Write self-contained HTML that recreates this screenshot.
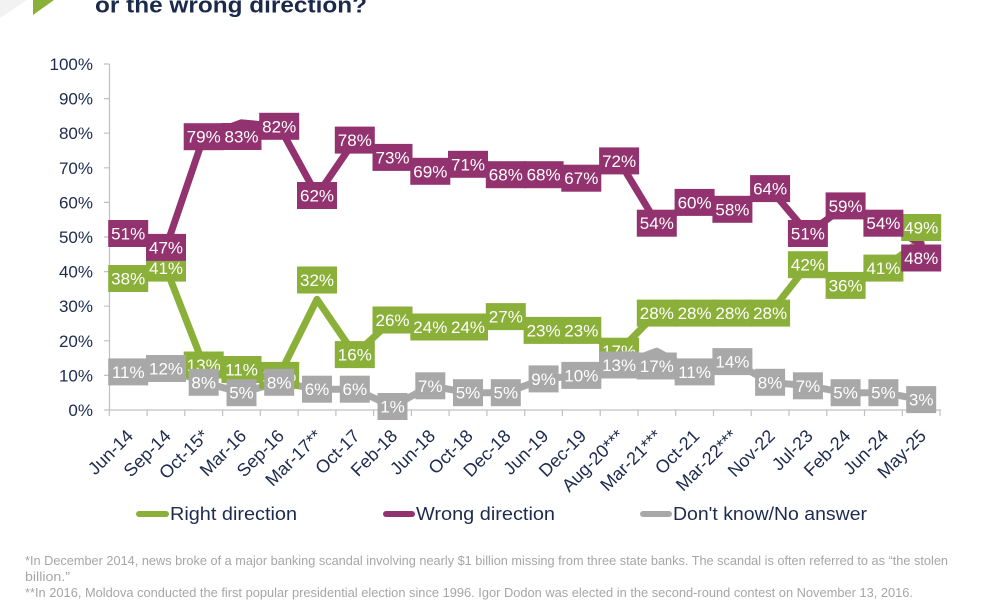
<!DOCTYPE html>
<html><head><meta charset="utf-8"><style>
html,body{margin:0;padding:0;background:#fff;}
svg{display:block;}
text{font-family:"Liberation Sans",sans-serif;}
.lb{font-size:17px;fill:#fff;text-anchor:middle;}
.ax{font-size:17px;fill:#1e2b4f;}
</style></head><body>
<svg width="1000" height="600" viewBox="0 0 1000 600" xmlns="http://www.w3.org/2000/svg">
<rect width="1000" height="600" fill="#fff"/>
<polygon points="0,0 27,0 0,18" fill="#f2f2f2"/>
<polygon points="33,0 54,0 33,15" fill="#8bb03a"/>
<text x="95" y="12.5" font-size="22" font-weight="bold" fill="#1b2a4a" textLength="272" lengthAdjust="spacingAndGlyphs">or the wrong direction?</text>

<!-- axes -->
<g stroke="#c0c0c0" stroke-width="1.2" fill="none">
<line x1="109.5" y1="64" x2="109.5" y2="410"/>
<line x1="109" y1="410" x2="941" y2="410"/>
<path d="M104 410H109.5M104 375.4H109.5M104 340.8H109.5M104 306.2H109.5M104 271.6H109.5M104 237H109.5M104 202.4H109.5M104 167.8H109.5M104 133.2H109.5M104 98.6H109.5M104 64H109.5"/>
<path d="M109.3 410V416M147.1 410V416M184.8 410V416M222.6 410V416M260.3 410V416M298.1 410V416M335.9 410V416M373.6 410V416M411.4 410V416M449.1 410V416M486.9 410V416M524.7 410V416M562.4 410V416M600.2 410V416M638 410V416M675.7 410V416M713.5 410V416M751.2 410V416M789 410V416M826.8 410V416M864.5 410V416M902.3 410V416M940 410V416"/>
</g>
<g class="ax" text-anchor="end">
<text x="93" y="416">0%</text>
<text x="93" y="381.4">10%</text>
<text x="93" y="346.8">20%</text>
<text x="93" y="312.2">30%</text>
<text x="93" y="277.6">40%</text>
<text x="93" y="243">50%</text>
<text x="93" y="208.4">60%</text>
<text x="93" y="173.8">70%</text>
<text x="93" y="139.2">80%</text>
<text x="93" y="104.6">90%</text>
<text x="93" y="70">100%</text>
</g>
<g class="ax" text-anchor="end" style="font-size:18px">
<text transform="translate(134.2,437) rotate(-45)">Jun-14</text>
<text transform="translate(172,437) rotate(-45)">Sep-14</text>
<text transform="translate(209.7,437) rotate(-45)">Oct-15*</text>
<text transform="translate(247.5,437) rotate(-45)">Mar-16</text>
<text transform="translate(285.2,437) rotate(-45)">Sep-16</text>
<text transform="translate(323,437) rotate(-45)">Mar-17**</text>
<text transform="translate(360.8,437) rotate(-45)">Oct-17</text>
<text transform="translate(398.5,437) rotate(-45)">Feb-18</text>
<text transform="translate(436.3,437) rotate(-45)">Jun-18</text>
<text transform="translate(474,437) rotate(-45)">Oct-18</text>
<text transform="translate(511.8,437) rotate(-45)">Dec-18</text>
<text transform="translate(549.6,437) rotate(-45)">Jun-19</text>
<text transform="translate(587.3,437) rotate(-45)">Dec-19</text>
<text transform="translate(625.1,437) rotate(-45)">Aug-20***</text>
<text transform="translate(662.8,437) rotate(-45)">Mar-21***</text>
<text transform="translate(700.6,437) rotate(-45)">Oct-21</text>
<text transform="translate(738.4,437) rotate(-45)">Mar-22***</text>
<text transform="translate(776.1,437) rotate(-45)">Nov-22</text>
<text transform="translate(813.9,437) rotate(-45)">Jul-23</text>
<text transform="translate(851.6,437) rotate(-45)">Feb-24</text>
<text transform="translate(889.4,437) rotate(-45)">Jun-24</text>
<text transform="translate(927.2,437) rotate(-45)">May-25</text>
</g>

<!-- series lines -->
<g fill="none" stroke-width="7" stroke-linejoin="round" stroke-linecap="round">
<polyline stroke="#8bb03a" points="128.2,278.5 166,268.1 203.7,365 241.5,371.9 279.2,375.4 317,299.3 354.8,354.6 392.5,320 430.3,327 468,327 505.8,316.6 543.6,330.4 581.3,330.4 619.1,351.2 656.8,313.1 694.6,313.1 732.4,313.1 770.1,313.1 807.9,264.7 845.6,285.4 883.4,268.1 921.2,240.5"/>
<polyline stroke="#923370" points="128.2,233.5 166,247.4 203.7,136.7 241.5,122.8 279.2,126.3 317,195.5 354.8,140.1 392.5,157.4 430.3,171.3 468,164.3 505.8,174.7 543.6,174.7 581.3,178.2 619.1,160.9 656.8,223.2 694.6,202.4 732.4,209.3 770.1,188.6 807.9,233.5 845.6,205.9 883.4,223.2 921.2,243.9"/>
<polyline stroke="#a8a8a8" points="128.2,371.9 166,368.5 203.7,382.3 241.5,392.7 279.2,382.3 317,389.2 354.8,389.2 392.5,406.5 430.3,385.8 468,392.7 505.8,392.7 543.6,378.9 581.3,375.4 619.1,365 656.8,351.2 694.6,371.9 732.4,361.6 770.1,382.3 807.9,385.8 845.6,392.7 883.4,392.7 921.2,399.6"/>
</g>

<!-- green labels -->
<g fill="#8bb03a">
<rect x="108.2" y="265" width="40" height="27"/>
<rect x="146" y="254.6" width="40" height="27"/>
<rect x="183.7" y="351.5" width="40" height="27"/>
<rect x="221.5" y="356" width="40" height="27"/>
<rect x="259.2" y="361.9" width="40" height="27"/>
<rect x="297" y="266.5" width="40" height="27"/>
<rect x="334.8" y="341.1" width="40" height="27"/>
<rect x="372.5" y="306.5" width="40" height="27"/>
<rect x="410.3" y="313.5" width="40" height="27"/>
<rect x="448" y="313.5" width="40" height="27"/>
<rect x="485.8" y="303.1" width="40" height="27"/>
<rect x="523.6" y="316.9" width="40" height="27"/>
<rect x="561.3" y="316.9" width="40" height="27"/>
<rect x="599.1" y="337.7" width="40" height="27"/>
<rect x="636.8" y="299.6" width="40" height="27"/>
<rect x="674.6" y="299.6" width="40" height="27"/>
<rect x="712.4" y="299.6" width="40" height="27"/>
<rect x="750.1" y="299.6" width="40" height="27"/>
<rect x="787.9" y="251.2" width="40" height="27"/>
<rect x="825.6" y="271.9" width="40" height="27"/>
<rect x="863.4" y="254.6" width="40" height="27"/>
<rect x="901.2" y="214" width="40" height="27"/>
</g>
<g class="lb">
<text x="128.2" y="284.5">38%</text>
<text x="166" y="274.1">41%</text>
<text x="203.7" y="371">13%</text>
<text x="241.5" y="375.5">11%</text>
<text x="279.2" y="381.4">10%</text>
<text x="317" y="286">32%</text>
<text x="354.8" y="360.6">16%</text>
<text x="392.5" y="326">26%</text>
<text x="430.3" y="333">24%</text>
<text x="468" y="333">24%</text>
<text x="505.8" y="322.6">27%</text>
<text x="543.6" y="336.4">23%</text>
<text x="581.3" y="336.4">23%</text>
<text x="619.1" y="357.2">17%</text>
<text x="656.8" y="319.1">28%</text>
<text x="694.6" y="319.1">28%</text>
<text x="732.4" y="319.1">28%</text>
<text x="770.1" y="319.1">28%</text>
<text x="807.9" y="270.7">42%</text>
<text x="845.6" y="291.4">36%</text>
<text x="883.4" y="274.1">41%</text>
<text x="921.2" y="233.5">49%</text>
</g>

<!-- purple labels -->
<g fill="#923370">
<rect x="108.2" y="220" width="40" height="27"/>
<rect x="146" y="233.9" width="40" height="27"/>
<rect x="183.7" y="123.2" width="40" height="27"/>
<rect x="221.5" y="123" width="40" height="27"/>
<rect x="259.2" y="112.8" width="40" height="27"/>
<rect x="297" y="182" width="40" height="27"/>
<rect x="334.8" y="126.6" width="40" height="27"/>
<rect x="372.5" y="143.9" width="40" height="27"/>
<rect x="410.3" y="157.8" width="40" height="27"/>
<rect x="448" y="150.8" width="40" height="27"/>
<rect x="485.8" y="161.2" width="40" height="27"/>
<rect x="523.6" y="161.2" width="40" height="27"/>
<rect x="561.3" y="164.7" width="40" height="27"/>
<rect x="599.1" y="147.4" width="40" height="27"/>
<rect x="636.8" y="209.7" width="40" height="27"/>
<rect x="674.6" y="188.9" width="40" height="27"/>
<rect x="712.4" y="195.8" width="40" height="27"/>
<rect x="750.1" y="175.1" width="40" height="27"/>
<rect x="787.9" y="220" width="40" height="27"/>
<rect x="825.6" y="192.4" width="40" height="27"/>
<rect x="863.4" y="209.7" width="40" height="27"/>
<rect x="901.2" y="244.5" width="40" height="27"/>
</g>
<g class="lb">
<text x="128.2" y="239.5">51%</text>
<text x="166" y="253.4">47%</text>
<text x="203.7" y="142.7">79%</text>
<text x="241.5" y="142.5">83%</text>
<text x="279.2" y="132.3">82%</text>
<text x="317" y="201.5">62%</text>
<text x="354.8" y="146.1">78%</text>
<text x="392.5" y="163.4">73%</text>
<text x="430.3" y="177.3">69%</text>
<text x="468" y="170.3">71%</text>
<text x="505.8" y="180.7">68%</text>
<text x="543.6" y="180.7">68%</text>
<text x="581.3" y="184.2">67%</text>
<text x="619.1" y="166.9">72%</text>
<text x="656.8" y="229.2">54%</text>
<text x="694.6" y="208.4">60%</text>
<text x="732.4" y="215.3">58%</text>
<text x="770.1" y="194.6">64%</text>
<text x="807.9" y="239.5">51%</text>
<text x="845.6" y="211.9">59%</text>
<text x="883.4" y="229.2">54%</text>
<text x="921.2" y="264">48%</text>
</g>

<!-- gray labels -->
<g fill="#a8a8a8">
<rect x="108.2" y="358.4" width="40" height="27"/>
<rect x="146" y="355" width="40" height="27"/>
<rect x="188.7" y="368.8" width="30" height="27"/>
<rect x="226.5" y="379.2" width="30" height="27"/>
<rect x="264.2" y="368.8" width="30" height="27"/>
<rect x="302" y="375.7" width="30" height="27"/>
<rect x="339.8" y="375.7" width="30" height="27"/>
<rect x="377.5" y="393" width="30" height="27"/>
<rect x="415.3" y="372.3" width="30" height="27"/>
<rect x="453" y="379.2" width="30" height="27"/>
<rect x="490.8" y="379.2" width="30" height="27"/>
<rect x="528.6" y="365.4" width="30" height="27"/>
<rect x="561.3" y="361.9" width="40" height="27"/>
<rect x="599.1" y="351.5" width="40" height="27"/>
<rect x="636.8" y="352.5" width="40" height="27"/>
<rect x="674.6" y="358.4" width="40" height="27"/>
<rect x="712.4" y="348.1" width="40" height="27"/>
<rect x="755.1" y="368.8" width="30" height="27"/>
<rect x="792.9" y="372.3" width="30" height="27"/>
<rect x="830.6" y="379.2" width="30" height="27"/>
<rect x="868.4" y="379.2" width="30" height="27"/>
<rect x="906.2" y="386.1" width="30" height="27"/>
</g>
<g class="lb">
<text x="128.2" y="377.9">11%</text>
<text x="166" y="374.5">12%</text>
<text x="203.7" y="388.3">8%</text>
<text x="241.5" y="398.7">5%</text>
<text x="279.2" y="388.3">8%</text>
<text x="317" y="395.2">6%</text>
<text x="354.8" y="395.2">6%</text>
<text x="392.5" y="412.5">1%</text>
<text x="430.3" y="391.8">7%</text>
<text x="468" y="398.7">5%</text>
<text x="505.8" y="398.7">5%</text>
<text x="543.6" y="384.9">9%</text>
<text x="581.3" y="381.4">10%</text>
<text x="619.1" y="371">13%</text>
<text x="656.8" y="372">17%</text>
<text x="694.6" y="377.9">11%</text>
<text x="732.4" y="367.6">14%</text>
<text x="770.1" y="388.3">8%</text>
<text x="807.9" y="391.8">7%</text>
<text x="845.6" y="398.7">5%</text>
<text x="883.4" y="398.7">5%</text>
<text x="921.2" y="405.6">3%</text>
</g>

<!-- legend -->
<g stroke-width="6" stroke-linecap="round">
<line x1="139" y1="514" x2="166" y2="514" stroke="#8bb03a"/>
<line x1="386" y1="514" x2="412" y2="514" stroke="#923370"/>
<line x1="643" y1="514" x2="669" y2="514" stroke="#a8a8a8"/>
</g>
<g font-size="18" fill="#1e2b4f">
<text x="170" y="520" textLength="127" lengthAdjust="spacingAndGlyphs">Right direction</text>
<text x="416" y="520" textLength="139" lengthAdjust="spacingAndGlyphs">Wrong direction</text>
<text x="673" y="520" textLength="194" lengthAdjust="spacingAndGlyphs">Don't know/No answer</text>
</g>

<!-- footnotes -->
<g font-size="13" fill="#a6a6a6">
<text x="25" y="565" textLength="923" lengthAdjust="spacingAndGlyphs">*In December 2014, news broke of a major banking scandal involving nearly $1 billion missing from three state banks. The scandal is often referred to as “the stolen</text>
<text x="25" y="581" textLength="45" lengthAdjust="spacingAndGlyphs">billion.”</text>
<text x="25" y="597" textLength="888" lengthAdjust="spacingAndGlyphs">**In 2016, Moldova conducted the first popular presidential election since 1996. Igor Dodon was elected in the second-round contest on November 13, 2016.</text>
</g>
</svg>
</body></html>
